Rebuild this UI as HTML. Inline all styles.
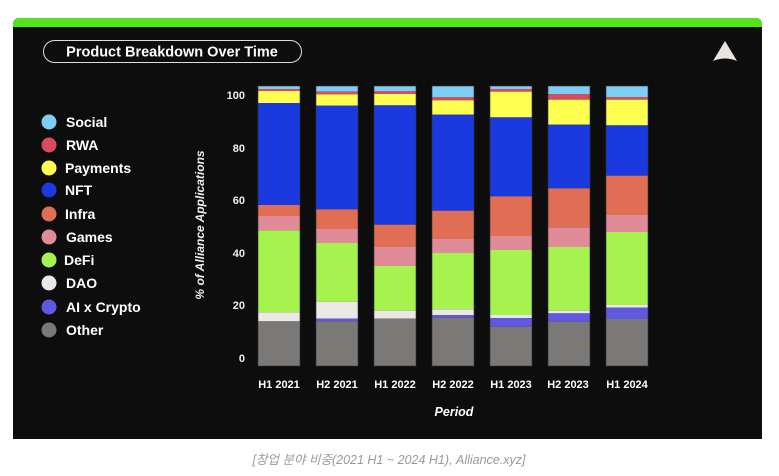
<!DOCTYPE html>
<html><head><meta charset="utf-8"><style>
body{margin:0;background:#fff;width:779px;height:476px;overflow:hidden;font-family:"Liberation Sans",sans-serif}
</style></head><body>
<svg width="779" height="476" xmlns="http://www.w3.org/2000/svg" style="position:absolute;left:0;top:0">
<path d="M19,18 H756 A6,6 0 0 1 762,24 V439 H13 V24 A6,6 0 0 1 19,18 Z" fill="#0d0d0d"/>
<path d="M19,18 H756 A6,6 0 0 1 762,24 V27 H13 V24 A6,6 0 0 1 19,18 Z" fill="#52e51e"/>
<rect x="43.5" y="40.5" width="258" height="22" rx="11" fill="none" stroke="#ddd" stroke-width="1"/>
<text x="172" y="56.5" fill="#fff" font-size="14.5" font-weight="bold" text-anchor="middle">Product Breakdown Over Time</text>
<path d="M725,41 L737,61 Q725,56 713,61 Z" fill="#e8e4e2"/>
<g font-size="14" font-weight="bold" fill="#fff">
<circle cx="49" cy="122" r="7.5" fill="#7ecdf5"/><text x="66" y="127">Social</text>
<circle cx="49" cy="145" r="7.5" fill="#d84a5e"/><text x="66" y="150">RWA</text>
<circle cx="49" cy="168" r="7.5" fill="#ffff50"/><text x="65" y="173">Payments</text>
<circle cx="49" cy="190" r="7.5" fill="#1a3ae0"/><text x="65" y="195">NFT</text>
<circle cx="49" cy="214" r="7.5" fill="#e06e55"/><text x="65" y="219">Infra</text>
<circle cx="49" cy="237" r="7.5" fill="#e08c98"/><text x="66" y="242">Games</text>
<circle cx="49" cy="260" r="7.5" fill="#a6f24e"/><text x="64" y="265">DeFi</text>
<circle cx="49" cy="283" r="7.5" fill="#ece8e6"/><text x="66" y="288">DAO</text>
<circle cx="49" cy="307" r="7.5" fill="#6058e0"/><text x="66" y="312">AI x Crypto</text>
<circle cx="49" cy="330" r="7.5" fill="#7b7977"/><text x="66" y="335">Other</text>
</g>
<g font-size="11" font-weight="bold" fill="#eee" text-anchor="end">
<text x="245" y="99">100</text><text x="245" y="152">80</text><text x="245" y="204">60</text>
<text x="245" y="257">40</text><text x="245" y="309">20</text><text x="245" y="362">0</text>
</g>
<text transform="translate(204,225) rotate(-90)" fill="#eee" font-size="12" font-weight="bold" font-style="italic" text-anchor="middle">% of Alliance Applications</text>
<g id="bars"></g>
<g font-size="11" font-weight="bold" fill="#fff" text-anchor="middle">
<text x="279" y="388">H1 2021</text><text x="337" y="388">H2 2021</text><text x="395" y="388">H1 2022</text>
<text x="453" y="388">H2 2022</text><text x="511" y="388">H1 2023</text><text x="568" y="388">H2 2023</text><text x="627" y="388">H1 2024</text>
</g>
<text x="454" y="416" fill="#fff" font-size="12.5" font-weight="bold" font-style="italic" text-anchor="middle">Period</text>
<text x="389" y="464" fill="#999" font-size="12.5" font-style="italic" text-anchor="middle" font-family="Liberation Sans, Noto Sans CJK KR, sans-serif">[창업 분야 비중(2021 H1 ~ 2024 H1), Alliance.xyz]</text>
</svg>
<script>
var cols=["#7ecdf5","#d84a5e","#ffff50","#1a3ae0","#e06e55","#e08c98","#a6f24e","#ece8e6","#6058e0","#7b7977"];
var xs=[258,316,374,432,490,548,606];
var b=[
[18,27,33,69,375,408,451,697,724,724,858],
[18,35,43,77,388,447,489,665,716,724,858],
[18,34,42,76,434,501,558,692,716,716,858],
[18,52,61,104,392,477,519,688,705,713,858],
[18,27,35,112,349,468,510,705,714,740,858],
[18,42,59,134,325,442,501,692,700,725,858],
[18,51,59,136,287,405,456,675,683,717,858]];
var s="";
for(var i=0;i<7;i++){for(var j=0;j<10;j++){var y1=80+b[i][j]/3,y2=80+b[i][j+1]/3;if(y2>y1)s+='<rect x="'+xs[i]+'" y="'+y1.toFixed(2)+'" width="42" height="'+(y2-y1).toFixed(2)+'" fill="'+cols[j]+'"/>';}
s+='<rect x="'+xs[i]+'" y="86" width="42" height="280" fill="none" stroke="#333" stroke-width="0.6"/>';}
document.getElementById("bars").innerHTML=s;
</script>
</body></html>
